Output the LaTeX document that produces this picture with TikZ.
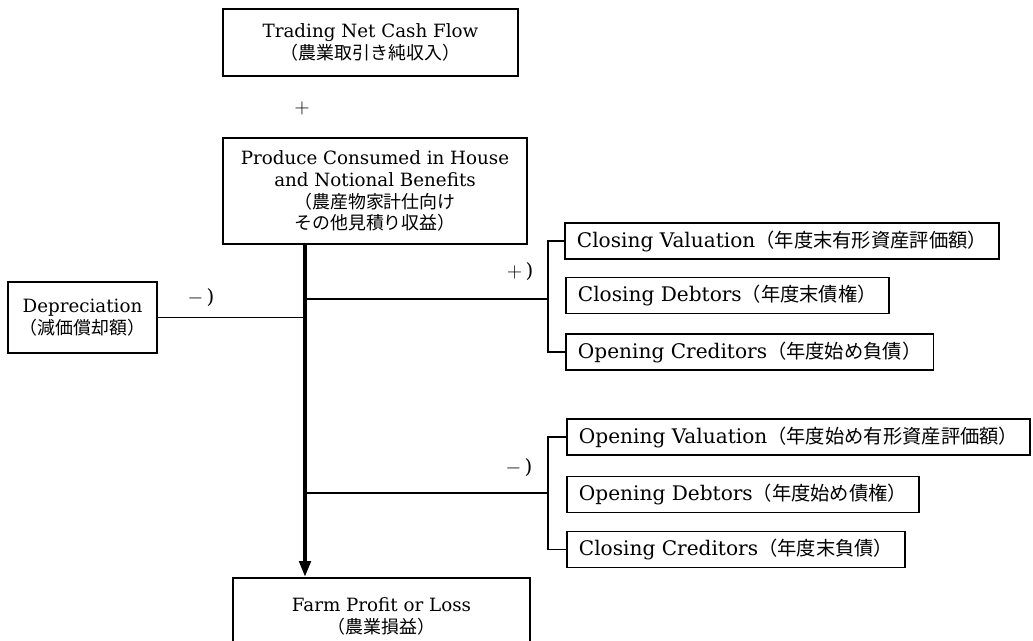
\documentclass[tikz,border=0pt]{standalone}
\usepackage{fontspec}
\setmainfont{DejaVu Serif}
\newfontfamily\jp{Noto Sans CJK JP}[Scale=0.98]
\newcommand{\jpx}[1]{{\fontsize{14}{15.6}\selectfont\jp #1}}
\usetikzlibrary{positioning,arrows.meta}

\tikzset{
	box/.style={draw, line width=1.3pt, align=center, inner sep=0pt,
		font=\fontsize{13}{15.6}\selectfont},
	item/.style={box, anchor=west, inner xsep=0.3cm, minimum height=0.9cm,
		font=\fontsize{14.3}{15.6}\selectfont},
	link/.style={line width=1.3pt},
	spine/.style={line width=3pt, -{Triangle[length=0.4cm, width=0.28cm]}},
	sign/.style={font=\fontsize{14}{15.6}\selectfont}
}

\begin{document}
\begin{tikzpicture}[x=0.025cm, y=-0.025cm]
	\useasboundingbox (0,0) rectangle (1033,640);
	\clip (0,0) rectangle (1033,640);
	% income side
	\node[box, minimum width=7.375cm, minimum height=1.675cm] (trade) at (370.5,42.5)
		{Trading Net Cash Flow\\ \jp{（農業取引き純収入）}};
	\node[sign] (plus) at (302,108) {$+$};
	\node[box, minimum width=7.6cm, minimum height=2.65cm] (produce) at (375,191)
		{Produce Consumed in House\\ and Notional Benefits\\ \jp{（農産物家計仕向け}\\ \jp{その他見積り収益）}};
	\node[box, minimum width=3.725cm, minimum height=1.775cm] (depr) at (82.5,317.5)
		{Depreciation\\ \jp{（減価償却額）}};
	\node[box, minimum width=7.425cm, minimum height=1.9cm] (profit) at (381.5,616)
		{Farm Profit or Loss\\ \jp{（農業損益）}};
	% adjustments
	\node[item] (cval) at (564,241) {Closing Valuation\jpx{（年度末有形資産評価額）}};
	\node[item] (cdeb) at (565,295.5) {Closing Debtors\jpx{（年度末債権）}};
	\node[item] (ocred) at (565,352) {Opening Creditors\jpx{（年度始め負債）}};
	\node[item] (oval) at (566,437) {Opening Valuation\jpx{（年度始め有形資産評価額）}};
	\node[item] (odeb) at (566,494.5) {Opening Debtors\jpx{（年度始め債権）}};
	\node[item] (ccred) at (566,549.5) {Closing Creditors\jpx{（年度末負債）}};
	\node[sign] (depsign) at (201,298) {$-$\,)};
	\node[sign] (addsign) at (520,272) {$+$\,)};
	\node[sign] (subsign) at (519,468) {$-$\,)};
	\coordinate (axis) at (305,0);
	\coordinate (plusjoin) at (548,299);
	\coordinate (minusjoin) at (548,493);
	% connectors
	\draw[spine] (axis |- produce.south) -- (axis |- profit.north);
	\draw[link] (depr.east) -- (axis |- depr.east);
	\draw[link] (axis |- plusjoin) -- (plusjoin);
	\draw[link] (cval.west) -| (plusjoin) |- (ocred.west);
	\draw[link] (axis |- minusjoin) -- (minusjoin);
	\draw[link] (oval.west) -| (minusjoin) |- (ccred.west);
\end{tikzpicture}
\end{document}
